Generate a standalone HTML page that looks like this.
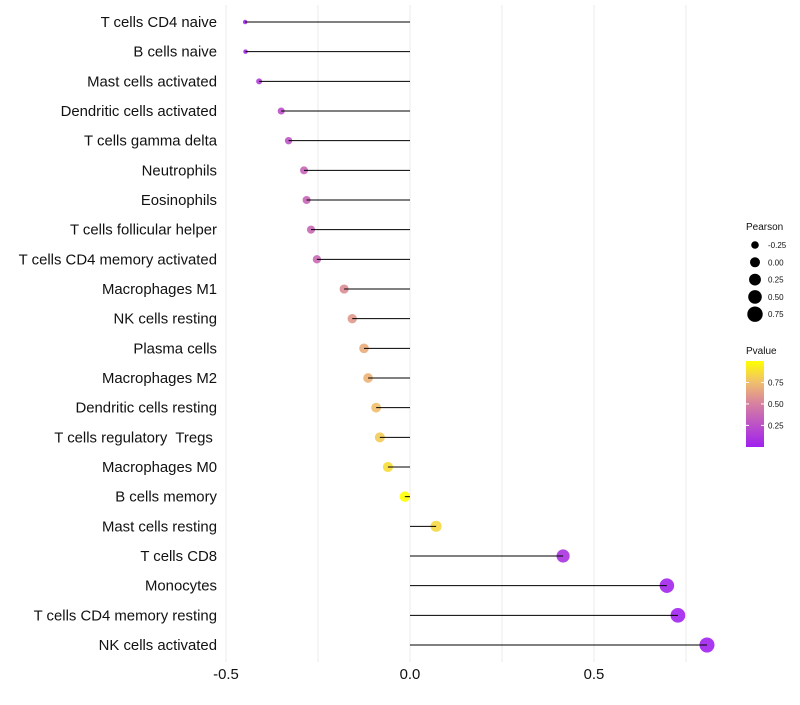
<!DOCTYPE html>
<html><head><meta charset="utf-8"><style>
body{margin:0;background:#fff;font-family:"Liberation Sans",sans-serif}
text{white-space:pre}
</style></head><body>
<svg id="chart" width="800" height="700" xmlns="http://www.w3.org/2000/svg" font-family="Liberation Sans, sans-serif"></svg>
<script>
const categories=["T cells CD4 naive","B cells naive","Mast cells activated","Dendritic cells activated","T cells gamma delta","Neutrophils","Eosinophils","T cells follicular helper","T cells CD4 memory activated","Macrophages M1","NK cells resting","Plasma cells","Macrophages M2","Dendritic cells resting","T cells regulatory  Tregs ","Macrophages M0","B cells memory","Mast cells resting","T cells CD8","Monocytes","T cells CD4 memory resting","NK cells activated"];
const pearson=[-0.448,-0.447,-0.41,-0.35,-0.33,-0.288,-0.281,-0.269,-0.253,-0.179,-0.157,-0.125,-0.114,-0.092,-0.082,-0.06,-0.014,0.071,0.416,0.698,0.728,0.807];
const pvalue=[0.05,0.05,0.15,0.25,0.27,0.35,0.35,0.37,0.38,0.55,0.6,0.68,0.7,0.75,0.8,0.87,1.0,0.85,0.1,0.03,0.02,0.01];
const xTicks=[-0.5,0.0,0.5];
const xTickLabels=["-0.5","0.0","0.5"];
const minorTicks=[-0.25,0.25,0.75];
const sizeLegendValues=[-0.25,0,0.25,0.5,0.75];
const sizeLegendLabels=["-0.25","0.00","0.25","0.50","0.75"];
const colorLegendValues=[0.25,0.5,0.75];
const colorLegendLabels=["0.25","0.50","0.75"];

const svg=document.getElementById('chart');
const NS="http://www.w3.org/2000/svg";
function mk(tag,attrs,parent){const e=document.createElementNS(NS,tag);for(const k in attrs)e.setAttribute(k,attrs[k]);(parent||svg).appendChild(e);return e;}
const x=v=>410+v*368;
const y=i=>22+i*(623/21);
const r=v=>2+5.5*Math.sqrt(Math.max(0,(v+0.45)/1.25));
const stops=[[0,[160,32,240]],[0.5,[214,128,160]],[0.75,[240,190,110]],[1,[255,255,0]]];
function col(p){for(let i=1;i<stops.length;i++){if(p<=stops[i][0]){const a=stops[i-1],b=stops[i];const t=(p-a[0])/(b[0]-a[0]);const c=a[1].map((v,k)=>Math.round(v+(b[1][k]-v)*t));return `rgb(${c})`;}}return 'rgb(255,255,0)';}

const grid=mk('g',{});


minorTicks.concat(xTicks).forEach(t=>{mk('line',{x1:x(t),x2:x(t),y1:5,y2:662,stroke:'#ebebeb','stroke-width':1},grid);});

const defs=mk('defs',{});
const lg=mk('linearGradient',{id:'pg',x1:0,y1:1,x2:0,y2:0},defs);
stops.forEach(s=>mk('stop',{offset:s[0],'stop-color':`rgb(${s[1]})`},lg));

categories.forEach((c,i)=>{
  const g=mk('g',{});
  
  
  mk('circle',{cx:x(pearson[i]),cy:y(i),r:r(pearson[i]),fill:col(pvalue[i]),'fill-opacity':0.9},g);
  mk('line',{x1:x(0),x2:x(pearson[i]),y1:y(i),y2:y(i),stroke:'#000','stroke-width':1},g);
  const t=mk('text',{x:217,y:y(i)+5,'text-anchor':'end','font-size':14.9,fill:'#111'});
  t.textContent=c;
  
  
});
xTicks.forEach((t,i)=>{const e=mk('text',{x:x(t),y:679,'text-anchor':'middle','font-size':14.9,fill:'#111'});e.textContent=xTickLabels[i];

});

const sl=mk('g',{});


mk('text',{x:746,y:230,'font-size':10,fill:'#111'},sl).textContent='Pearson';
sizeLegendValues.forEach((v,i)=>{const cy=245+i*17.3;mk('circle',{cx:755,cy:cy,r:3.8+0.9*i+(i?0.3:0),fill:'#000'},sl);mk('text',{x:768,y:cy+3,'font-size':8,fill:'#111'},sl).textContent=sizeLegendLabels[i];});

const cl=mk('g',{});


mk('text',{x:746,y:354,'font-size':10,fill:'#111'},cl).textContent='Pvalue';
mk('rect',{x:746,y:361,width:18,height:86,fill:'url(#pg)'},cl);
const cb=v=>446-(v-0.01)/0.99*85;
colorLegendValues.forEach((v,i)=>{mk('line',{x1:746,x2:749,y1:cb(v),y2:cb(v),stroke:'#fff'},cl);mk('line',{x1:761,x2:764,y1:cb(v),y2:cb(v),stroke:'#fff'},cl);mk('text',{x:768,y:cb(v)+3,'font-size':8,fill:'#111'},cl).textContent=colorLegendLabels[i];});
</script>
</body></html>
